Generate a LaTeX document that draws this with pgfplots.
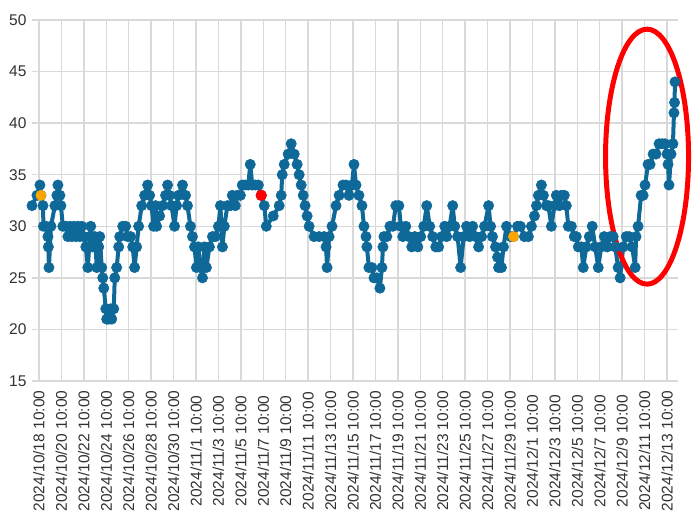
\documentclass[border=0pt]{standalone}
\usepackage{pgfplots}
\pgfplotsset{compat=1.18}
\usepackage{fontspec}
\setmainfont{Liberation Sans}
\definecolor{lineblue}{RGB}{14,104,152}
\definecolor{gridgray}{RGB}{217,217,217}
\definecolor{labelgray}{RGB}{50,50,50}
\definecolor{ptorange}{RGB}{255,165,0}
\begin{document}
\begin{tikzpicture}
\path[use as bounding box] (-32bp,-133bp) rectangle (668bp,381bp);
\begin{axis}[
  scale only axis,
  width=646bp, height=361bp,
  xmin=-0.62, xmax=56.98,
  ymin=15, ymax=50,
  ytick={15,20,...,50},
  xtick={0,2,...,56},
  xticklabels={2024/10/18 10:00,2024/10/20 10:00,2024/10/22 10:00,2024/10/24 10:00,2024/10/26 10:00,2024/10/28 10:00,2024/10/30 10:00,2024/11/1 10:00,2024/11/3 10:00,2024/11/5 10:00,2024/11/7 10:00,2024/11/9 10:00,2024/11/11 10:00,2024/11/13 10:00,2024/11/15 10:00,2024/11/17 10:00,2024/11/19 10:00,2024/11/21 10:00,2024/11/23 10:00,2024/11/25 10:00,2024/11/27 10:00,2024/11/29 10:00,2024/12/1 10:00,2024/12/3 10:00,2024/12/5 10:00,2024/12/7 10:00,2024/12/9 10:00,2024/12/11 10:00,2024/12/13 10:00},
  grid=major,
  major grid style={draw=gridgray, line width=1.4bp},
  axis line style={draw=none},
  major tick length=0pt,
  /pgf/number format/assume math mode=true,
  tick label style={font=\fontsize{15.5bp}{17bp}\selectfont, text=labelgray},
  xticklabel style={yshift=-70bp, rotate=90, anchor=center},
  yticklabel style={xshift=-2bp},
  clip=false,
]
\addplot[color=lineblue, line width=4bp, line join=round, line cap=round, mark=*, mark size=5.2bp, mark options={fill=lineblue, line width=0.5bp}] table {
x y
-0.62 32
-0.18 33
0.09 34
0.18 33
0.36 32
0.40 30
0.62 30
0.80 29
0.84 28
0.89 26
1.07 30
1.42 32
1.60 33
1.69 34
1.87 33
1.96 32
2.13 30
2.40 30
2.58 29
2.76 30
2.93 29
3.11 30
3.29 29
3.47 30
3.64 29
3.82 30
4.00 29
4.18 28
4.36 26
4.53 29
4.62 30
4.80 28
4.98 29
5.16 26
5.33 28
5.42 29
5.60 26
5.69 25
5.78 24
5.96 22
6.04 21
6.22 21
6.40 22
6.49 21
6.67 22
6.76 25
6.93 26
7.11 28
7.20 29
7.47 30
7.73 30
7.91 29
8.18 29
8.36 28
8.53 26
8.71 28
8.89 30
9.16 32
9.42 33
9.69 34
9.87 33
10.04 32
10.22 30
10.40 32
10.49 30
10.76 31
11.02 32
11.29 33
11.47 34
11.64 33
11.82 32
12.09 30
12.27 32
12.44 33
12.80 34
13.07 33
13.24 32
13.51 30
13.69 29
13.87 28
14.04 26
14.22 28
14.40 26
14.58 25
14.76 28
14.93 26
15.20 28
15.47 29
15.73 29
16.00 30
16.18 32
16.36 28
16.53 30
16.80 32
17.07 32
17.24 33
17.51 32
17.69 33
17.96 33
18.13 34
18.40 34
18.67 34
18.84 36
19.02 34
19.29 34
19.56 34
19.82 33
20.09 32
20.27 30
20.89 31
21.42 32
21.60 33
21.69 35
21.87 36
22.22 37
22.49 38
22.76 37
23.02 36
23.20 35
23.38 34
23.56 33
23.73 32
23.91 31
24.09 30
24.53 29
24.98 29
25.42 29
25.60 28
25.69 26
25.87 29
26.13 30
26.49 32
26.76 33
27.11 34
27.38 34
27.64 33
27.91 34
28.09 36
28.27 34
28.53 33
28.80 32
28.98 30
29.16 29
29.24 28
29.42 26
29.69 26
29.87 25
30.13 25
30.40 24
30.58 26
30.67 28
30.76 29
31.02 29
31.29 30
31.56 30
31.82 32
32.09 32
32.27 30
32.44 29
32.71 30
32.98 29
33.24 28
33.51 29
33.78 28
34.04 29
34.31 30
34.58 32
34.84 30
35.11 29
35.38 28
35.64 28
35.91 29
36.18 30
36.36 29
36.62 30
36.89 32
37.07 30
37.33 29
37.60 26
37.87 29
38.13 30
38.40 29
38.67 30
38.93 29
39.20 28
39.47 29
39.73 30
40.09 32
40.27 30
40.44 29
40.71 28
40.89 27
40.98 26
41.24 26
41.42 28
41.69 30
42.04 29
42.31 29
42.67 30
42.93 30
43.29 29
43.64 29
43.91 30
44.18 31
44.36 32
44.53 33
44.80 34
44.98 33
45.24 32
45.42 32
45.69 30
45.96 32
46.13 33
46.40 32
46.58 33
46.84 33
47.02 32
47.20 30
47.47 30
47.73 29
47.91 29
48.09 28
48.36 28
48.53 26
48.80 28
49.07 29
49.33 30
49.60 28
49.87 26
50.13 28
50.40 29
50.67 28
50.93 29
51.20 29
51.38 28
51.64 26
51.82 25
52.09 28
52.36 29
52.62 29
52.89 28
53.16 26
53.24 29
53.42 30
53.69 33
53.87 33
54.04 34
54.31 36
54.49 36
54.76 37
55.02 37
55.29 38
55.56 38
55.82 38
56.00 37
56.09 36
56.18 34
56.36 37
56.53 38
56.62 41
56.67 42
56.71 44
};
\addplot[only marks, mark=*, mark size=5.2bp, color=ptorange, mark options={fill=ptorange, line width=0.4bp}] table {
x y
0.18 33
42.31 29
};
\addplot[only marks, mark=*, mark size=5.4bp, color=red, mark options={fill=red, line width=0.4bp}] table {
x y
19.82 33
};
\draw[red, line width=5bp] (axis cs:54.22,36.75) ellipse [x radius=41.5bp, y radius=127.5bp];
\end{axis}
\end{tikzpicture}
\end{document}
